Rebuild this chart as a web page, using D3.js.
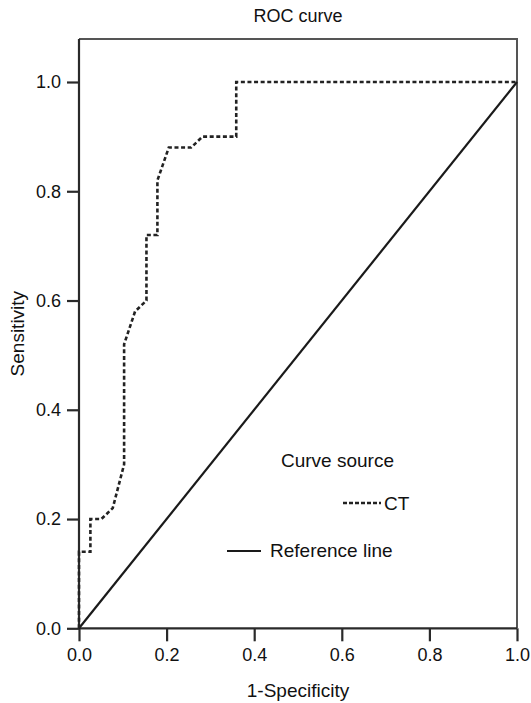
<!DOCTYPE html>
<html>
<head>
<meta charset="utf-8">
<script src="https://cdn.jsdelivr.net/npm/d3@7/dist/d3.min.js"></script>
<style>
  body { margin: 0; background: #fff; }
  svg { display: block; font-family: "Liberation Sans", Arial, sans-serif; }
  .curve { fill: none; stroke: #222; stroke-width: 2.6; stroke-dasharray: 4 2.6; }
  .ref { fill: none; stroke: #1a1a1a; stroke-width: 2.2; }
</style>
</head>
<body>
<svg id="chart" width="531" height="703"></svg>
<script>
// Points de la courbe ROC (1-spécificité, sensibilité)
const FPR = [0, 0, 0.026, 0.026, 0.051, 0.077, 0.103, 0.103, 0.128, 0.154, 0.154, 0.179, 0.179, 0.205, 0.256, 0.282, 0.359, 0.359, 1];
const TPR = [0, 0.14, 0.14, 0.2, 0.2, 0.22, 0.3, 0.52, 0.58, 0.6, 0.72, 0.72, 0.82, 0.88, 0.88, 0.9, 0.9, 1, 1];
const TICKS = [0, 0.2, 0.4, 0.6, 0.8, 1.0];
const REF = [0, 1];

const SVG = d3.select("#chart");
const WIDTH = 531;
const HEIGHT = 703;
const MARGIN = { top: 39, bottom: 75, left: 79, right: 14 };

const SCALE_X = d3.scaleLinear()
  .domain([0, 1])
  .range([MARGIN.left, WIDTH - MARGIN.right]);

// l'axe monte un peu au-dessus de 1.0 (cadre)
const SCALE_Y = d3.scaleLinear()
  .domain([0, 1])
  .range([628.3, 82]);

const TOP = MARGIN.top;

// Cadre haut et droit
SVG.append("path")
  .attr("d", `M${SCALE_X(0)},${TOP}H${SCALE_X(1)}V${SCALE_Y(0)}`)
  .attr("fill", "none")
  .attr("stroke", "#555")
  .attr("stroke-width", 2);

// Axes
const xAxis = SVG.append("g")
  .attr("transform", `translate(0,${SCALE_Y(0)})`)
  .call(d3.axisBottom(SCALE_X).tickValues(TICKS).tickSize(13).tickPadding(7).tickFormat(d3.format(".1f")));

const yAxis = SVG.append("g")
  .attr("transform", `translate(${SCALE_X(0)},0)`)
  .call(d3.axisLeft(SCALE_Y).tickValues(TICKS).tickSize(12).tickPadding(6).tickFormat(d3.format(".1f")));

yAxis.select(".domain").attr("d", `M0,${TOP}V${SCALE_Y(0)}`);
xAxis.select(".domain").attr("d", `M${SCALE_X(0)},0H${SCALE_X(1)}`);

[xAxis, yAxis].forEach(g => {
  g.select(".domain").attr("stroke", "#2a2a2a").attr("stroke-width", 2.2);
  g.selectAll(".tick line").attr("stroke", "#2a2a2a").attr("stroke-width", 2.2);
  g.selectAll(".tick text")
    .attr("fill", "#111")
    .style("font-size", "18px")
    .style("font-family", "'Liberation Sans', Arial, sans-serif");
});

// Ligne de référence
SVG.append("path")
  .datum(REF)
  .attr("class", "ref")
  .attr("d", d3.line().x(d => SCALE_X(d)).y(d => SCALE_Y(d)));

// Courbe ROC
SVG.append("path")
  .datum(d3.range(FPR.length))
  .attr("class", "curve")
  .attr("d", d3.line().x(i => SCALE_X(FPR[i])).y(i => SCALE_Y(TPR[i])));

// Titres
SVG.append("text")
  .attr("x", (SCALE_X(0) + SCALE_X(1)) / 2)
  .attr("y", 22)
  .attr("text-anchor", "middle")
  .style("font-size", "18px")
  .attr("fill", "#111")
  .text("ROC curve");

SVG.append("text")
  .attr("x", (SCALE_X(0) + SCALE_X(1)) / 2)
  .attr("y", 697)
  .attr("text-anchor", "middle")
  .style("font-size", "19px")
  .attr("fill", "#111")
  .text("1-Specificity");

SVG.append("text")
  .attr("transform", `translate(24,${(TOP + SCALE_Y(0)) / 2}) rotate(-90)`)
  .attr("text-anchor", "middle")
  .style("font-size", "19px")
  .attr("fill", "#111")
  .text("Sensitivity");

// Légende
const LEG = SVG.append("g");
LEG.append("text").attr("x", 281).attr("y", 467).style("font-size", "19px").attr("fill", "#111").text("Curve source");
LEG.append("line").attr("class", "curve").attr("x1", 343).attr("x2", 381).attr("y1", 503).attr("y2", 503).style("stroke-dasharray", "4 2");
LEG.append("text").attr("x", 384).attr("y", 510).style("font-size", "19px").attr("fill", "#111").text("CT");
LEG.append("line").attr("class", "ref").attr("x1", 227).attr("x2", 261).attr("y1", 551).attr("y2", 551);
LEG.append("text").attr("x", 270).attr("y", 557).style("font-size", "19px").attr("fill", "#111").text("Reference line");
</script>
</body>
</html>
